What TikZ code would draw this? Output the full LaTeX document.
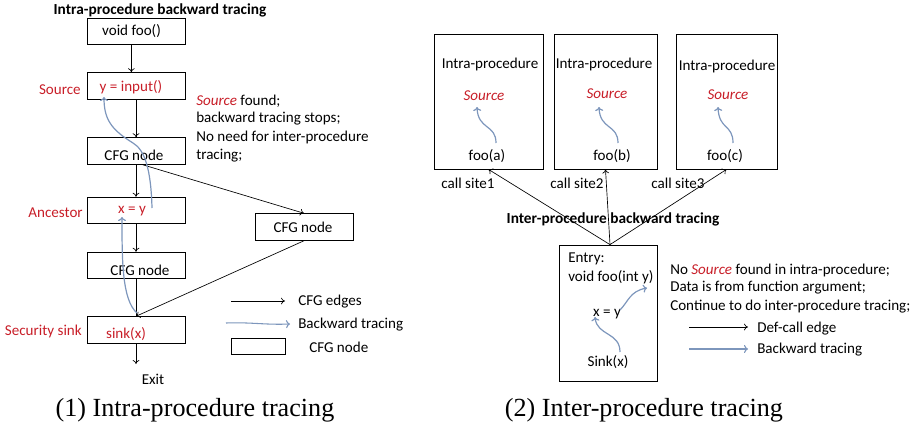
\documentclass[tikz,border=0pt]{standalone}
\usepackage{fontspec}
\setmainfont{Carlito}
\newfontfamily\capfont{Liberation Serif}
\usetikzlibrary{arrows.meta}
\definecolor{srcred}{RGB}{200,30,40}
\definecolor{trace}{RGB}{125,150,188}
\begin{document}
\begin{tikzpicture}[x=0.75pt,y=-0.75pt,
  every node/.style={font=\fontsize{11.3}{13.7}\selectfont, inner sep=0pt},
  cfg/.style={draw, line width=0.6pt, minimum width=73.5pt, minimum height=20pt},
  proc/.style={draw, line width=0.6pt},
  edge/.style={-{To[length=3pt,width=5pt]}, line width=0.5pt},
  plain/.style={line width=0.5pt},
  back/.style={-{To[length=3pt,width=6pt]}, trace, line width=0.9pt},
  redtxt/.style={text=srcred},
  itred/.style={text=srcred, font=\itshape\fontsize{11.3}{13.7}\selectfont},
  captxt/.style={font=\capfont\fontsize{19.6}{22}\selectfont},
  ttl/.style={font=\bfseries\fontsize{11.5}{13}\selectfont}]
\useasboundingbox (0,0) rectangle (923,429);

% ---------- (1) intra-procedure ----------
\node[ttl] (t1) at (160,10) {Intra-procedure backward tracing};
\node[cfg] (foo) at (136,31.5) {};
\node[cfg] (inp) at (136,86) {};
\node[cfg] (c1) at (136,151) {};
\node[cfg] (anc) at (136,210.5) {};
\node[cfg] (c2) at (136,265.5) {};
\node[cfg] (sink) at (136,330) {};
\node[cfg] (c3) at (304,227) {};
\node (footxt) at (131.5,31) {void foo()};
\node[redtxt] (inptxt) at (131,87) {y = input()};
\node (c1txt) at (134,155) {CFG node};
\node[redtxt] (anctxt) at (132,211) {x = y};
\node (c2txt) at (140,270) {CFG node};
\node[redtxt] (sinktxt) at (126,334) {sink(x)};
\node (c3txt) at (303,227) {CFG node};
\coordinate (exitpt) at (136,364);
\node (exit) at (153,379) {Exit};

\node[redtxt, anchor=east] (lsrc) at (81,90) {Source};
\node[redtxt, anchor=east] (lanc) at (83,213) {Ancestor};
\node[redtxt, anchor=east] (lsink) at (82,331) {Security sink};

\draw[edge] ([xshift=-3.5pt]foo.south) -- ([xshift=-3.5pt]inp.north);
\draw[edge] (inp.south) -- (c1.north);
\draw[edge] (c1.south) -- (anc.north);
\draw[edge] (anc.south) -- (c2.north);
\draw[plain] (c2.south) -- (sink.north);
\draw[edge] (sink.south) -- (exitpt);
\draw[edge] ([xshift=5pt]c1.south) -- (c3.north);
\draw[edge] (c3.south) -- (sink.north);

\draw[back] (137,313) .. controls (122,300) and (122,260) .. (122,217);
\draw[back] (152,208) .. controls (151,170) and (145,150) .. (133,143)
   .. controls (112,130) and (104,120) .. (104,97);

\node[anchor=west] (n1a) at (196,101) {{\color{srcred}\itshape Source} found;};
\node[anchor=west] (n1b) at (196,119) {backward tracing stops;};
\node[anchor=west] (n1c) at (196,137) {No need for inter-procedure};
\node[anchor=west] (n1d) at (196,156) {tracing;};

% legend 1
\coordinate (l1a) at (231,301);
\coordinate (l1b) at (285,301);
\draw[edge] (l1a) -- (l1b);
\node[anchor=west] (l1t) at (298,302) {CFG edges};
\coordinate (l2a) at (226,323);
\coordinate (l2b) at (290,324);
\draw[back, line width=0.8pt] (l2a) .. controls (250,322) and (265,325) .. (l2b);
\node[anchor=west] (l2t) at (298,325) {Backward tracing};
\node[draw, line width=0.6pt, minimum width=41pt, minimum height=12pt] (l3r) at (258.5,346) {};
\node[anchor=west] (l3t) at (309,347) {CFG node};

\node[captxt] (cap1) at (195,410) {(1) Intra-procedure tracing};

% ---------- (2) inter-procedure ----------
\node[proc, minimum width=81.75pt, minimum height=101.25pt] (b1) at (488.5,101.5) {};
\node[proc, minimum width=77.25pt, minimum height=101.25pt] (b2) at (605.5,101.5) {};
\node[proc, minimum width=75.75pt, minimum height=101.25pt] (b3) at (726.5,101.5) {};

\node (ip1) at (490,64) {Intra-procedure};
\node (ip2) at (604,64) {Intra-procedure};
\node (ip3) at (727,66) {Intra-procedure};
\node[itred] (s1) at (484,96) {Source};
\node[itred] (s2) at (607,94) {Source};
\node[itred] (s3) at (728,95) {Source};
\node (fa) at (487,156) {foo(a)};
\node (fb) at (612,156) {foo(b)};
\node (fc) at (725,156) {foo(c)};
\draw[back] (496,143) .. controls (496,124) and (478,130) .. (477,107);
\draw[back] (618,143) .. controls (618,124) and (600,130) .. (599,107);
\draw[back] (733,143) .. controls (733,124) and (719,130) .. (718,107);

\node (cs1) at (468,183) {call site1};
\node (cs2) at (577,183) {call site2};
\node (cs3) at (678,183) {call site3};

\node[ttl] (t2) at (613,219) {Inter-procedure backward tracing};

\node[proc, minimum width=73.5pt, minimum height=102pt] (entry) at (608,313) {};
\node[anchor=west] (en1) at (568,259) {Entry:};
\node[anchor=west] (en2) at (568,277) {void foo(int y)};
\node (xy) at (607,314) {x = y};
\node (sk) at (608,362) {Sink(x)};
\draw[back] (620,352) .. controls (620,332) and (597,336) .. (595,317);
\draw[back] (620,310) .. controls (628,302) and (630,291) .. (647,288);

\draw[edge] ([xshift=1.5pt]entry.north) -- (b1.south);
\draw[edge] ([xshift=1.5pt]entry.north) -- (b2.south);
\draw[edge] ([xshift=1.5pt]entry.north) -- (b3.south);

\node[anchor=west] (n2a) at (670,270) {No {\color{srcred}\itshape Source} found in intra-procedure;};
\node[anchor=west] (n2b) at (670,288) {Data is from function argument;};
\node[anchor=west] (n2c) at (670,307) {Continue to do inter-procedure tracing;};

\coordinate (d1a) at (689,327);
\coordinate (d1b) at (748,327);
\draw[edge] (d1a) -- (d1b);
\node[anchor=west] (d1t) at (757,329) {Def-call edge};
\coordinate (d2a) at (689,349);
\coordinate (d2b) at (748,349);
\draw[back, line width=0.8pt] (d2a) -- (d2b);
\node[anchor=west] (d2t) at (757,350) {Backward tracing};

\node[captxt] (cap2) at (644,410) {(2) Inter-procedure tracing};
\end{tikzpicture}
\end{document}
